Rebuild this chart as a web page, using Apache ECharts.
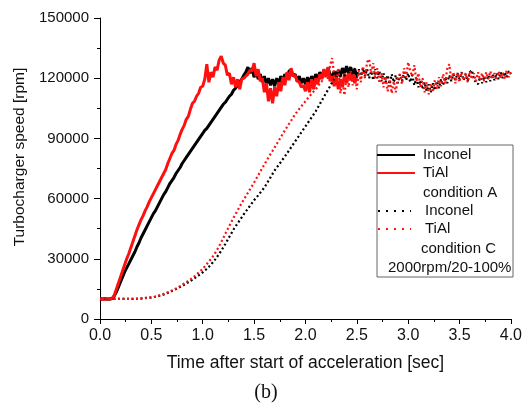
<!DOCTYPE html>
<html>
<head>
<meta charset="utf-8">
<script src="https://cdn.jsdelivr.net/npm/echarts@6/dist/echarts.min.js"></script>
<style>
html,body{margin:0;padding:0;background:#fff;}
#chart{width:525px;height:407px;}
</style>
</head>
<body>
<div id="chart"></div>
<script>
// Time after start of acceleration [sec], sample grid of the traces
const time = [
0,0.02,0.04,0.06,0.08,0.1,0.12,0.14,0.16,0.18,0.2,0.22,0.24,0.26,0.28,0.3,0.32,0.34,0.36,0.38,0.4,0.42,0.44,0.46,0.48,
0.5,0.52,0.54,0.56,0.58,0.6,0.62,0.64,0.66,0.68,0.7,0.72,0.74,0.76,0.78,0.8,0.82,0.84,0.86,0.88,0.9,0.92,0.94,0.96,0.98,
1,1.02,1.04,1.06,1.08,1.1,1.12,1.14,1.16,1.18,1.2,1.22,1.24,1.26,1.28,1.3,1.32,1.34,1.36,1.38,1.4,1.42,1.44,1.46,1.48,
1.5,1.52,1.54,1.56,1.58,1.6,1.62,1.64,1.66,1.68,1.7,1.72,1.74,1.76,1.78,1.8,1.82,1.84,1.86,1.88,1.9,1.92,1.94,1.96,1.98,
2,2.02,2.04,2.06,2.08,2.1,2.12,2.14,2.16,2.18,2.2,2.22,2.24,2.26,2.28,2.3,2.32,2.34,2.36,2.38,2.4,2.42,2.44,2.46,2.48,
2.5,2.52,2.54,2.56,2.58,2.6,2.62,2.64,2.66,2.68,2.7,2.72,2.74,2.76,2.78,2.8,2.82,2.84,2.86,2.88,2.9,2.92,2.94,2.96,2.98,
3,3.02,3.04,3.06,3.08,3.1,3.12,3.14,3.16,3.18,3.2,3.22,3.24,3.26,3.28,3.3,3.32,3.34,3.36,3.38,3.4,3.42,3.44,3.46,3.48,
3.5,3.52,3.54,3.56,3.58,3.6,3.62,3.64,3.66,3.68,3.7,3.72,3.74,3.76,3.78,3.8,3.82,3.84,3.86,3.88,3.9,3.92,3.94,3.96,3.98,
4
];

// Condition A, Inconel (0 - 2.5 s)
const inconelA = [
10000,9900,10100,10000,9900,10000,10200,11500,13500,16000,18500,21000,23500,25500,27500,29500,31500,33500,36000,38000,40500,42500,44500,46500,48500,
50500,52500,54000,56000,58000,60000,62000,63500,65500,67500,69000,70500,72500,74000,75500,77500,79000,80500,82000,83500,85000,86500,88000,89500,91000,
92500,94000,95000,96500,98000,99500,101000,102500,104000,105500,107000,108000,109500,111000,112000,114000,115000,116500,118000,119500,121500,123000,125500,122500,125000,
120500,123500,119500,122000,118000,121000,117000,120000,116500,119500,116000,120000,117000,121000,118500,122000,119500,123500,124000,121000,122000,118500,121000,117500,120000,
117000,120500,117500,121000,118500,122000,119500,123000,120500,124000,121500,125000,122000,120500,123500,120000,124000,121000,125000,122500,126000,122500,125500,121500,124500,
121000
];

// Condition A, TiAl (0 - 2.5 s)
const tialA = [
10000,10100,9900,10000,10100,10000,10300,12000,15000,18000,21000,24000,27000,30000,32500,35500,38500,41500,44500,47000,49500,51500,54000,56000,58500,
60500,62500,64500,66500,68500,70500,72500,74500,77500,80000,82500,84000,87000,89000,92000,94500,96500,99500,101000,104500,107500,108500,111000,112500,115500,
116000,119500,127000,118000,123000,120500,125500,124000,129000,131000,127500,126500,121500,122500,117000,120500,115500,119500,114500,119500,120000,121000,122000,124000,123500,
127500,121000,124500,118500,120000,113000,117500,108500,115000,107500,115500,111000,118000,113500,120500,116500,123000,119000,125000,121000,121500,118500,118000,115500,116500,
113500,118000,113000,119500,114500,120000,117000,122000,119500,124500,120500,125500,118500,121000,116000,120500,114500,119500,115500,122000,117500,123500,119000,122500,117500,
121000
];

// Condition C, Inconel (0 - 4.0 s)
const inconelC = [
10000,10000,10000,10000,10000,10000,10000,10000,10000,10000,10000,10000,10000,10000,10000,10000,10000,10100,10100,10200,10200,10300,10400,10500,10600,
10700,10900,11100,11300,11600,11900,12200,12600,13000,13400,13900,14400,14900,15400,16000,16500,17100,17700,18300,18900,19600,20300,21000,21700,22400,
23200,24100,25000,26000,27100,28300,29600,31000,32500,34000,35700,37400,39200,41000,42800,44600,46200,47700,49200,50700,52200,53600,55000,56400,57800,
59200,60400,61600,62900,64200,65500,67200,68900,70600,72300,74000,75400,76800,78200,79600,81000,82500,84000,85500,87000,88500,90000,91500,93000,94500,
96000,97500,99000,100500,102000,103500,105300,107100,108900,110700,112500,114300,116000,118000,119500,121500,124000,120500,125000,121000,125500,122000,126000,121500,125000,
120500,124500,120000,125000,121000,124500,120000,123500,119000,124500,120000,123500,118500,122500,118000,121500,117000,122000,118000,121500,117500,122000,118500,123000,119000,
122500,118000,121500,116500,120000,115500,119000,114500,118000,113500,117000,113000,117500,114000,118500,115000,119500,116500,120500,117500,121500,118500,122000,119000,122500,
119500,123000,119000,122000,118500,123000,124000,119500,118000,117000,120500,117500,121000,118000,121500,118500,122000,119000,122500,119500,123000,120000,123000,120500,123500,
122000
];

// Condition C, TiAl (0 - 4.0 s)
const tialC = [
10000,10000,10000,10000,10000,10000,10000,10000,10000,10000,10000,10000,10000,10000,10000,10000,10100,10100,10200,10200,10300,10400,10500,10600,10700,
10800,11000,11200,11500,11800,12100,12500,12900,13300,13700,14200,14700,15200,15800,16400,17000,17700,18300,19000,19700,20500,21300,22200,23100,24000,
25000,26200,27400,28600,29900,31300,32800,34500,36300,38300,40300,42500,44500,46500,48500,50500,52300,54100,56000,57800,59500,61200,62900,64600,66300,
68000,69800,71600,73400,75200,77000,78800,80500,82200,83800,85500,87200,88900,90600,92300,94000,95600,97200,98800,100400,102000,103400,104700,106000,107200,
108500,109800,111000,112200,113400,114500,115700,117500,118500,121500,123500,119500,126500,130000,121500,118000,125000,112500,119000,111500,121000,115500,123500,116500,122000,
114500,124000,118000,126000,120000,128000,129500,122500,127500,119500,125000,117500,122500,115500,121000,113500,119500,112500,118500,113000,120500,122000,117000,125000,120500,
128000,123500,121000,126500,118500,122500,115500,120000,113000,118000,112000,117500,113000,119000,114500,120500,116000,122000,117500,124500,127000,119000,123000,117500,122500,
118000,123000,119000,122500,118000,123500,119500,122500,118500,123000,119000,122500,118500,123000,119500,123500,119500,122500,119000,123500,120000,123000,119500,124000,120500,
123000
];

const xTicks = {min: 0, max: 4, interval: 0.5};
const yTicks = {min: 0, max: 150000, interval: 30000};

const BLACK = '#000000';
const RED = '#ff1010';
const FONT = 'Liberation Sans';

function pairs(vals) { return vals.map((v, i) => [time[i], v]); }

const chart = echarts.init(document.getElementById('chart'), null, {renderer: 'canvas'});

const legendX = 377, legendY = 145;
const txt = (x, y, s, align) => ({
  type: 'text', x: x, y: y, z: 11,
  style: {text: s, fill: '#111', font: '15px "' + FONT + '"', textAlign: align || 'left', textVerticalAlign: 'middle'}
});
const seg = (x1, y, x2, color, dash) => ({
  type: 'line', z: 11, shape: {x1: x1, y1: y, x2: x2, y2: y},
  style: {stroke: color, lineWidth: 2, lineDash: dash || null}
});

chart.setOption({
  animation: false,
  backgroundColor: '#ffffff',
  grid: {left: 100, right: 13, top: 18, bottom: 88, containLabel: false},
  xAxis: {
    type: 'value', min: xTicks.min, max: xTicks.max, interval: xTicks.interval,
    name: 'Time after start of acceleration [sec]', nameLocation: 'middle', nameGap: 35,
    nameTextStyle: {fontFamily: FONT, fontSize: 17.5, color: '#111'},
    axisLine: {show: true, onZero: false, lineStyle: {color: BLACK, width: 1}},
    axisTick: {show: true, inside: false, length: 5, lineStyle: {color: BLACK}},
    minorTick: {show: true, splitNumber: 2, length: 3, lineStyle: {color: BLACK}},
    splitLine: {show: false},
    axisLabel: {fontFamily: FONT, fontSize: 16, color: '#111', margin: 9,
      formatter: v => v.toFixed(1)}
  },
  yAxis: {
    type: 'value', min: yTicks.min, max: yTicks.max, interval: yTicks.interval,
    axisLine: {show: true, onZero: false, lineStyle: {color: BLACK, width: 1}},
    axisTick: {show: true, inside: false, length: 6, lineStyle: {color: BLACK}},
    minorTick: {show: true, splitNumber: 2, length: 3, lineStyle: {color: BLACK}},
    splitLine: {show: false},
    axisLabel: {fontFamily: FONT, fontSize: 15, color: '#111', margin: 11,
      formatter: v => String(v)}
  },
  series: [
    {name: 'Inconel A', type: 'line', data: pairs(inconelA), showSymbol: false, symbol: 'none',
     lineStyle: {color: BLACK, width: 3}, z: 2},
    {name: 'TiAl A', type: 'line', data: pairs(tialA), showSymbol: false, symbol: 'none',
     lineStyle: {color: RED, width: 3}, z: 3},
    {name: 'Inconel C', type: 'line', data: pairs(inconelC), showSymbol: false, symbol: 'none',
     lineStyle: {color: BLACK, width: 2.2, type: [2, 2.5]}, z: 4},
    {name: 'TiAl C', type: 'line', data: pairs(tialC), showSymbol: false, symbol: 'none',
     lineStyle: {color: RED, width: 2.2, type: [2, 2.5]}, z: 5}
  ],
  graphic: [
    {type: 'text', x: 20, y: 157, rotation: Math.PI / 2, z: 11,
     style: {text: 'Turbocharger speed [rpm]', fill: '#111', font: '15.5px "' + FONT + '"',
       textAlign: 'center', textVerticalAlign: 'middle'}},
    {type: 'rect', z: 10, shape: {x: legendX, y: legendY, width: 136, height: 132},
     style: {fill: '#fff', stroke: '#666', lineWidth: 1}},
    seg(377, 155, 415, BLACK),
    txt(423, 155, 'Inconel'),
    seg(377, 173, 415, RED),
    txt(423, 173, 'TiAl'),
    txt(423, 193, 'condition A'),
    seg(378, 211, 411, BLACK, [2, 6]),
    txt(425, 211, 'Inconel'),
    seg(378, 229, 411, RED, [2, 6]),
    txt(425, 229, 'TiAl'),
    txt(421, 249, 'condition C'),
    txt(388, 268, '2000rpm/20-100%'),
    {type: 'text', x: 266, y: 393, z: 11,
     style: {text: '(b)', fill: '#111', font: '20px "Liberation Serif"', textAlign: 'center', textVerticalAlign: 'middle'}}
  ]
});
</script>
</body>
</html>
